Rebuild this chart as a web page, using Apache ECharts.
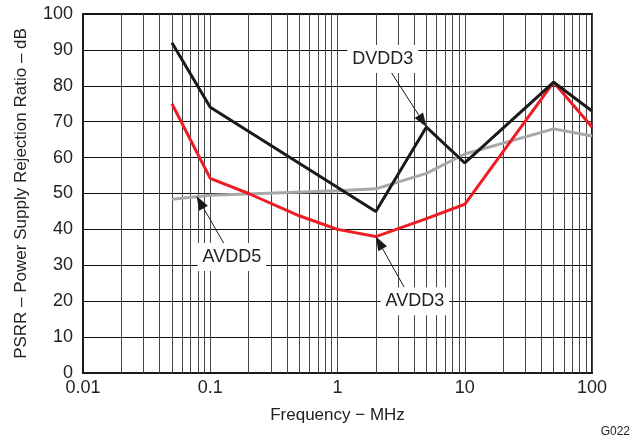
<!DOCTYPE html>
<html>
<head>
  <meta charset="utf-8">
  <title>PSRR vs Frequency</title>
  <script src="https://cdn.jsdelivr.net/npm/echarts@6/dist/echarts.min.js"></script>
</head>
<body style="margin:0">
  <div id="main" style="width:634px;height:442px;"></div>
  <script type="text/javascript">
    // frequency points (MHz) and PSRR (dB)
    var dvdd3Freq = [0.05, 0.1, 2, 5, 10, 50, 100];
    var dvdd3Psrr = [92, 74, 45, 68.5, 58.5, 81, 73];
    var avdd3Freq = [0.05, 0.1, 0.2, 0.5, 1, 2, 5, 10, 50, 100];
    var avdd3Psrr = [75, 54.2, 50, 43.8, 40, 38, 43, 47, 81, 68.5];
    var avdd5Freq = [0.05, 0.1, 1, 2, 5, 10, 50, 100];
    var avdd5Psrr = [48.4, 49.5, 50.8, 51.3, 55.6, 61, 68, 66];
    var xTickLabels = ['0.01', '0.1', '1', '10', '100'];

    // annotation text, label centre, arrow start, arrow tip (data coords)
    var notes = [
      { text: 'DVDD3', at: [2.27, 87.5], from: [2.66, 83.6], to: [5, 68.5] },
      { text: 'AVDD5', at: [0.148, 32.3], from: [0.13, 35.7], to: [0.078, 49.3] },
      { text: 'AVDD3', at: [4.06, 20], from: [3.34, 23.9], to: [2, 38] }
    ];

    function pairs(xs, ys) {
      return xs.map(function (x, i) { return [x, ys[i]]; });
    }

    // minor log grid lines 2..9 in each decade
    var minorLines = [];
    [0.01, 0.1, 1, 10].forEach(function (d) {
      for (var k = 2; k <= 9; k++) minorLines.push({ xAxis: +(d * k).toPrecision(3) });
    });

    var font = 'Liberation Sans, Arial, sans-serif';
    var myChart = echarts.init(document.getElementById('main'));
    var option = {
      animation: false,
      backgroundColor: '#fff',
      grid: { left: 83, right: 42, top: 14, bottom: 69, show: true, borderColor: '#1a1a1a', borderWidth: 2 },
      xAxis: {
        type: 'log', logBase: 10, min: 0.01, max: 100,
        name: 'Frequency − MHz', nameLocation: 'middle', nameGap: 34,
        nameTextStyle: { fontFamily: font, fontSize: 17, color: '#222' },
        axisLine: { lineStyle: { color: '#1a1a1a', width: 2 } },
        axisTick: { show: false },
        axisLabel: {
          fontFamily: font, fontSize: 18, color: '#222', margin: 6,
          formatter: function (v) {
            var i = Math.round(Math.log10(v)) + 2;
            return xTickLabels[i] || '';
          }
        },
        splitLine: { show: true, lineStyle: { color: '#444', width: 1 } }
      },
      yAxis: {
        type: 'value', min: 0, max: 100, interval: 10,
        name: 'PSRR – Power Supply Rejection Ratio – dB', nameLocation: 'middle', nameGap: 53,
        nameTextStyle: { fontFamily: font, fontSize: 17, color: '#222' },
        axisLine: { show: true, lineStyle: { color: '#1a1a1a', width: 2 } },
        axisTick: { show: false },
        axisLabel: { fontFamily: font, fontSize: 18, color: '#222', margin: 10 },
        splitLine: { show: true, lineStyle: { color: '#111', width: 1 } }
      },
      series: [
        {
          name: 'AVDD5', type: 'line', data: pairs(avdd5Freq, avdd5Psrr),
          showSymbol: false, lineStyle: { color: '#a8a8a8', width: 3 }, z: 3,
          markLine: {
            silent: true, symbol: 'none', label: { show: false },
            lineStyle: { color: '#444', width: 1, type: 'solid' },
            data: minorLines, z: 1
          }
        },
        {
          name: 'AVDD3', type: 'line', data: pairs(avdd3Freq, avdd3Psrr),
          showSymbol: false, lineStyle: { color: '#ee1c25', width: 3 }, z: 4
        },
        {
          name: 'DVDD3', type: 'line', data: pairs(dvdd3Freq, dvdd3Psrr),
          showSymbol: false, lineStyle: { color: '#1a1a1a', width: 3 }, z: 5
        }
      ]
    };
    myChart.setOption(option);

    // annotations with arrows, placed through the axes
    var graphics = [];
    notes.forEach(function (n) {
      var c = myChart.convertToPixel({ gridIndex: 0 }, n.at);
      var a = myChart.convertToPixel({ gridIndex: 0 }, n.from);
      var b = myChart.convertToPixel({ gridIndex: 0 }, n.to);
      var dx = b[0] - a[0], dy = b[1] - a[1];
      var len = Math.sqrt(dx * dx + dy * dy);
      var ux = dx / len, uy = dy / len;
      var hl = 14, hw = 5;
      var bx = b[0] - ux * hl, by = b[1] - uy * hl;
      graphics.push({
        type: 'line', z: 10,
        shape: { x1: a[0], y1: a[1], x2: bx, y2: by },
        style: { stroke: '#1a1a1a', lineWidth: 1 }
      });
      graphics.push({
        type: 'polygon', z: 10,
        shape: { points: [[b[0], b[1]], [bx - uy * hw, by + ux * hw], [bx + uy * hw, by - ux * hw]] },
        style: { fill: '#1a1a1a' }
      });
      graphics.push({
        type: 'text', z: 11, x: c[0], y: c[1],
        style: {
          text: n.text, fontFamily: font, fontSize: 18, fill: '#222',
          align: 'center', verticalAlign: 'middle',
          backgroundColor: '#fff', padding: [5, 5]
        }
      });
    });
    graphics.push({
      type: 'text', right: 4, bottom: 4,
      style: { text: 'G022', fontFamily: font, fontSize: 12, fill: '#222' }
    });
    myChart.setOption({ graphic: graphics });
  </script>
</body>
</html>
